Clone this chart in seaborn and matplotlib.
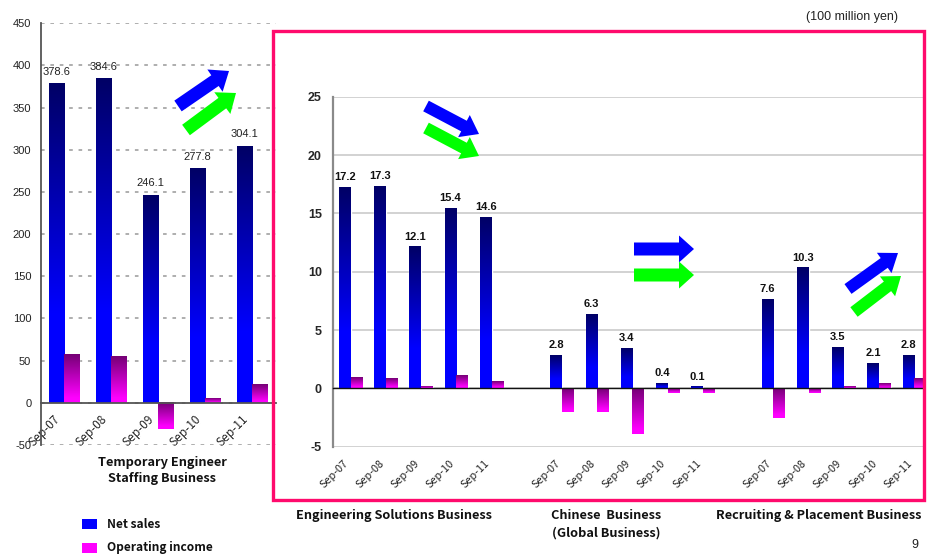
import numpy as np
import pandas as pd
import matplotlib
matplotlib.use("Agg")
import matplotlib.pyplot as plt
from matplotlib.patches import FancyArrow, Rectangle
from matplotlib.transforms import ScaledTranslation
from matplotlib.ticker import FixedLocator, NullFormatter
import seaborn as sns

# ---- data (100 million yen) ----
periods = ["Sep-07", "Sep-08", "Sep-09", "Sep-10", "Sep-11"]
series_names = ["Net sales", "Operating income"]

staffing_sales = [378.6, 384.6, 246.1, 277.8, 304.1]
staffing_income = [57.0, 55.0, -31.0, 5.0, 22.0]

engineering_sales = [17.2, 17.3, 12.1, 15.4, 14.6]
engineering_income = [0.9, 0.8, 0.1, 1.1, 0.6]

chinese_sales = [2.8, 6.3, 3.4, 0.4, 0.1]
chinese_income = [-2.0, -2.0, -3.9, -0.4, -0.4]

recruiting_sales = [7.6, 10.3, 3.5, 2.1, 2.8]
recruiting_income = [-2.5, -0.4, 0.1, 0.4, 0.8]

staffing_title = "Temporary Engineer\nStaffing Business"
segment_titles = ["Engineering Solutions Business",
                  "Chinese  Business\n(Global Business)",
                  "Recruiting & Placement Business"]
unit_note = "(100 million yen)"
page_number = "9"

# ---- style ----
sns.set_style("white")
plt.rcParams["font.family"] = ["Liberation Sans", "DejaVu Sans"]
plt.rcParams["axes.unicode_minus"] = False
GOTHIC = ["Noto Sans CJK JP", "DejaVu Sans"]

W, H = 932, 558
fig = plt.figure(figsize=(W / 100, H / 100), dpi=100)


def px_axes(x0, y0, x1, y1):
    """Axes from pixel box (top-left origin)."""
    return fig.add_axes([x0 / W, 1 - y1 / H, (x1 - x0) / W, (y1 - y0) / H])


palette = {"Net sales": "#0000FF", "Operating income": "#FF00FF"}
shades = {
    "Net sales": (np.array([0.0, 0.0, 0.40]), np.array([0.0, 0.0, 1.0]), 0.72),
    "Operating income": (np.array([0.46, 0.0, 0.46]), np.array([1.0, 0.0, 1.0]), 0.9),
}


def paint_gradients(ax):
    xl, yl = ax.get_xlim(), ax.get_ylim()
    for name, cont in zip(series_names, ax.containers):
        top, bottom, reach = shades[name]
        for bar in cont:
            x0, w = bar.get_x(), bar.get_width()
            y, h = bar.get_y(), bar.get_height()
            lo, hi = min(y, y + h), max(y, y + h)
            if hi - lo <= 0:
                continue
            t = np.linspace(1, 0, 80)  # fraction from the top, bottom row first
            f = np.clip(t / reach, 0, 1)[:, None]
            img = top + (bottom - top) * f
            ax.imshow(img[:, None, :], extent=(x0, x0 + w, lo, hi), origin="lower",
                      aspect="auto", interpolation="bilinear", zorder=bar.get_zorder())
            bar.set_facecolor("none")
    ax.set_xlim(xl)
    ax.set_ylim(yl)
    ax.set_aspect("auto")


def long_frame(positions, sales, income):
    return pd.DataFrame({
        "pos": list(positions) * 2,
        "value": list(sales) + list(income),
        "series": [series_names[0]] * len(sales) + [series_names[1]] * len(income),
    })


def rotate_labels(ax, size, shift_px):
    for lab in ax.get_xticklabels():
        lab.set_rotation(45)
        lab.set_ha("right")
        lab.set_va("top")
        lab.set_rotation_mode("anchor")
        lab.set_fontfamily(GOTHIC)
        lab.set_fontsize(size)
        lab.set_transform(lab.get_transform()
                          + ScaledTranslation(shift_px / 100, 0, fig.dpi_scale_trans))


# ================= left: temporary engineer staffing =================
axL = px_axes(41, 23.3, 275.5, 445)
dfL = long_frame(periods, staffing_sales, staffing_income)
sns.barplot(data=dfL, x="pos", y="value", hue="series", order=periods,
            hue_order=series_names, palette=palette, width=0.64, dodge=True,
            legend=False, errorbar=None, saturation=1, ax=axL, zorder=3)
axL.set_xlim(-0.5, 4.5)
axL.set_ylim(-50, 450)
axL.set_yticks(np.arange(-50, 451, 50))
axL.set_xlabel("")
axL.set_ylabel("")
axL.yaxis.grid(True, linestyle=(0, (2, 3.2)), color="#A8A8A8", lw=1.3, zorder=0)
axL.xaxis.grid(False)
for s in ["top", "right"]:
    axL.spines[s].set_visible(False)
axL.spines["left"].set_color("#555555")
axL.spines["left"].set_linewidth(1.3)
axL.spines["bottom"].set_position(("data", 0))
axL.spines["bottom"].set_color("#555555")
axL.spines["bottom"].set_linewidth(1.3)
axL.spines["bottom"].set_zorder(4)
axL.tick_params(axis="y", direction="out", length=3, width=1, color="#555555",
                labelsize=8, pad=4, labelcolor="#222222")
axL.xaxis.set_minor_locator(FixedLocator(np.arange(-0.5, 4.6, 1)))
axL.tick_params(axis="x", which="minor", direction="in", length=4, width=1, color="#555555")
axL.tick_params(axis="x", which="major", length=0, pad=7)
rotate_labels(axL, 8.5, -11)
paint_gradients(axL)
axL.bar_label(axL.containers[0], fmt="%.1f", padding=5, fontsize=8, color="#222222")

# ================= right: three segments =================
axR = px_axes(333, 96.7, 923, 446.7)
frames = []
segments = [(engineering_sales, engineering_income),
            (chinese_sales, chinese_income),
            (recruiting_sales, recruiting_income)]
for k, (sales, income) in enumerate(segments):
    frames.append(long_frame(np.arange(len(periods)) + 6 * k, sales, income))
dfR = pd.concat(frames, ignore_index=True)
sns.barplot(data=dfR, x="pos", y="value", hue="series", hue_order=series_names,
            palette=palette, native_scale=True, width=0.66, dodge=True,
            legend=False, errorbar=None, saturation=1, ax=axR, zorder=3)
axR.set_xlim(-0.5, 16.25)
axR.set_ylim(-5, 25)
axR.set_yticks(np.arange(-5, 26, 5))
axR.set_xlabel("")
axR.set_ylabel("")
axR.yaxis.grid(True, linestyle="-", color="#CFCFCF", lw=1.3, zorder=0)
axR.xaxis.grid(False)
for s in ["top", "right"]:
    axR.spines[s].set_visible(False)
axR.spines["left"].set_color("#8A8A8A")
axR.spines["left"].set_linewidth(1.6)
axR.spines["bottom"].set_position(("data", 0))
axR.spines["bottom"].set_color("#111111")
axR.spines["bottom"].set_linewidth(1.0)
axR.spines["bottom"].set_zorder(4)
tick_pos = [p + 6 * k for k in range(3) for p in range(len(periods))]
axR.set_xticks(tick_pos)
axR.set_xticklabels(periods * 3)
axR.xaxis.set_minor_locator(FixedLocator(np.arange(0.5, 16, 1)))
axR.xaxis.set_minor_formatter(NullFormatter())
axR.tick_params(axis="x", which="minor", direction="in", length=4, width=1, color="#111111")
axR.tick_params(axis="x", which="major", length=0, pad=50)
axR.tick_params(axis="y", direction="out", length=3, width=1, color="#8A8A8A",
                labelsize=9, pad=5)
for lab in axR.get_yticklabels():
    lab.set_fontweight("bold")
rotate_labels(axR, 7.8, -7)
paint_gradients(axR)
axR.bar_label(axR.containers[0], fmt="%.1f", padding=4, fontsize=8,
              fontweight="bold", color="#111111")

# ================= arrows (trend markers) =================
def arrow(x0, y0, x1, y1, color, shaft=0.12, head=0.25, head_len=0.17):
    fig.add_artist(FancyArrow(x0 / 100, (H - y0) / 100, (x1 - x0) / 100, -(y1 - y0) / 100,
                              width=shaft, head_width=head, head_length=head_len,
                              length_includes_head=True, color=color, lw=0,
                              transform=fig.dpi_scale_trans, zorder=6))


BLUE, GREEN = "#0000FF", "#00FF00"
arrow(178, 106, 229, 71, BLUE, shaft=0.13, head=0.27)
arrow(186, 130, 236, 93, GREEN, shaft=0.13, head=0.27)
arrow(426, 106, 479, 134, BLUE)
arrow(426, 128, 479, 156, GREEN)
arrow(634, 249, 694, 249, BLUE, shaft=0.13, head=0.27, head_len=0.15)
arrow(634, 275, 694, 275, GREEN, shaft=0.13, head=0.27, head_len=0.15)
arrow(848, 289, 898, 253, BLUE)
arrow(854, 312, 901, 276, GREEN)

# ================= frame, titles, legend =================
fig.add_artist(Rectangle((273 / W, 1 - 500 / H), (924 - 273) / W, (500 - 31) / H,
                         transform=fig.transFigure, fill=False,
                         edgecolor="#FF0A6C", lw=2.4, zorder=7))

fig.text(162 / W, 1 - 470.5 / H, staffing_title, ha="center", va="center",
         fontsize=9.2, fontweight="bold", family=GOTHIC, linespacing=1.35, color="#111111")
title_x = [394, 606, 819]
for x, t in zip(title_x, segment_titles):
    fig.text(x / W, 1 - 509 / H, t, ha="center", va="top", fontsize=9.2,
             fontweight="bold", family=GOTHIC, linespacing=1.45, color="#111111")

fig.text(852 / W, 1 - 17 / H, unit_note, ha="center", va="center", fontsize=9, color="#222222")
fig.text(915 / W, 1 - 545 / H, page_number, ha="center", va="center", fontsize=9, color="#222222")

for i, name in enumerate(series_names):
    yc = 524 + 24 * i
    fig.add_artist(Rectangle((82 / W, 1 - (yc + 5) / H), 15 / W, 10 / H,
                             transform=fig.transFigure, facecolor=palette[name], lw=0))
    fig.text(107 / W, 1 - yc / H, name, ha="left", va="center", fontsize=8.6,
             fontweight="bold", family=GOTHIC, color="#111111")

fig.savefig("out.png", dpi=100)
